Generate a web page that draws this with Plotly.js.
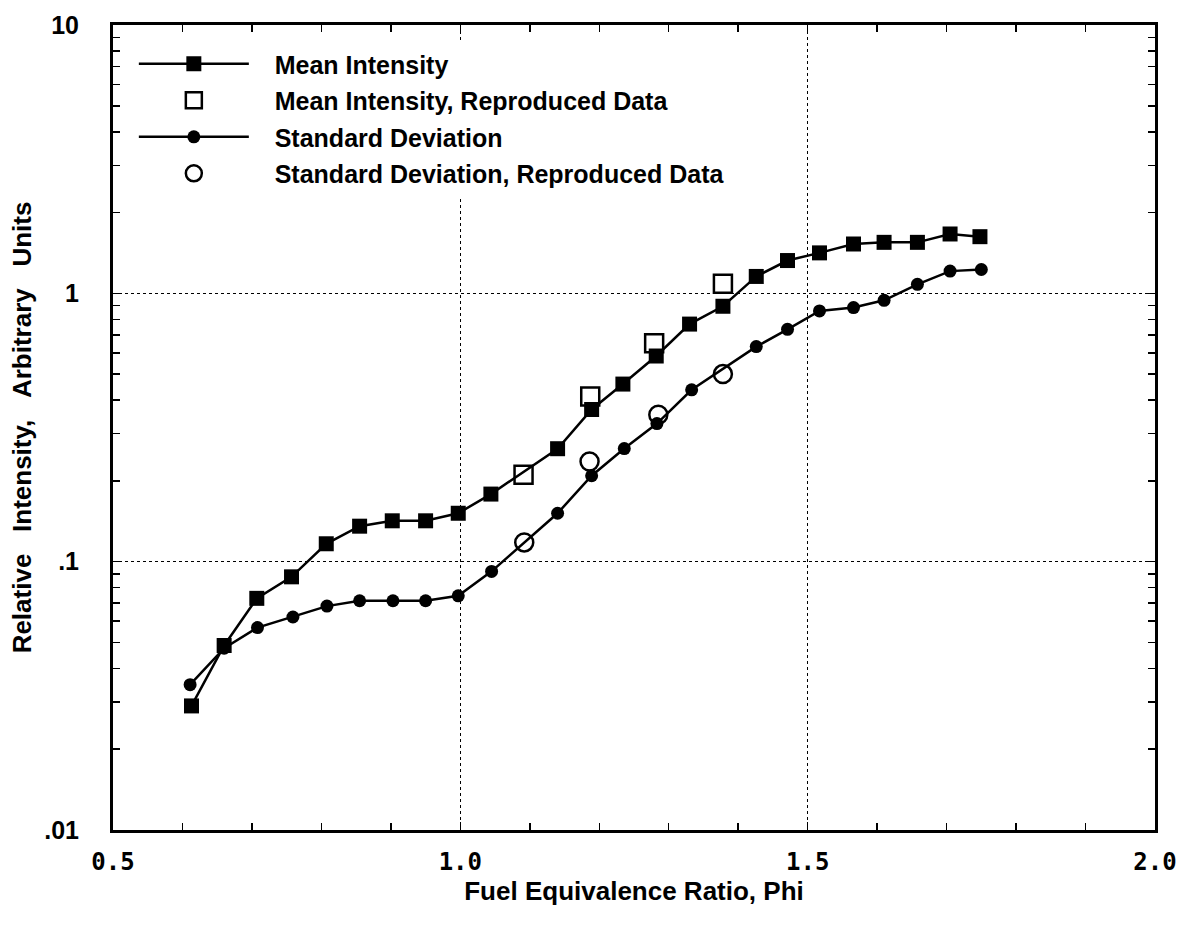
<!DOCTYPE html>
<html>
<head>
<meta charset="utf-8">
<script src="https://cdn.plot.ly/plotly-3.0.1.min.js"></script>
<style>
  html, body { margin: 0; padding: 0; background: #fff; }
  #chart { width: 1182px; height: 929px; }
</style>
</head>
<body>
<div id="chart"></div>
<script>
// Mean Intensity (filled squares)
const meanPhi = [0.613, 0.660, 0.707, 0.757, 0.807, 0.855, 0.902, 0.950, 0.997, 1.044,
                 1.140, 1.189, 1.234, 1.282, 1.330, 1.378, 1.426, 1.471, 1.517, 1.566,
                 1.610, 1.658, 1.705, 1.748];
const meanVal = [0.029, 0.0487, 0.073, 0.0878, 0.1166, 0.1356, 0.142, 0.142, 0.1515, 0.1786,
                 0.2636, 0.369, 0.459, 0.584, 0.768, 0.895, 1.156, 1.325, 1.415, 1.527,
                 1.549, 1.549, 1.664, 1.626];

// Mean Intensity, Reproduced Data (open squares)
const meanRepPhi = [1.091, 1.187, 1.279, 1.378];
const meanRepVal = [0.211, 0.413, 0.651, 1.086];

// Standard Deviation (filled circles)
const sdPhi = [0.611, 0.660, 0.708, 0.759, 0.808, 0.855, 0.903, 0.950, 0.997, 1.045,
               1.140, 1.189, 1.236, 1.283, 1.333, 1.426, 1.471, 1.517, 1.566,
               1.610, 1.658, 1.705, 1.750];
const sdVal = [0.0348, 0.0476, 0.0568, 0.0622, 0.0683, 0.0715, 0.0715, 0.0715, 0.0746, 0.092,
               0.1515, 0.209, 0.264, 0.327, 0.437, 0.633, 0.734, 0.86, 0.885,
               0.942, 1.08, 1.21, 1.227];

// Standard Deviation, Reproduced Data (open circles)
const sdRepPhi = [1.092, 1.186, 1.285, 1.378];
const sdRepVal = [0.118, 0.236, 0.353, 0.50];

const xTickVals = [0.5, 1.0, 1.5, 2.0];
const xTickText = ['0.5', '1.0', '1.5', '2.0'];
const yTickVals = [0.01, 0.1, 1, 10];
const yTickText = ['.01', '.1', '1', '10'];

const fam = 'Liberation Sans, Arial, sans-serif';
const legendFont = {family: fam, size: 25, color: '#000', weight: 'bold'};
const xTitleFont = {family: fam, size: 26, color: '#000', weight: 'bold'};
const yTitleFont = {family: fam, size: 26, color: '#000', weight: 'bold'};
const pad = '\u00a0\u00a0\u00a0';
const sp = '\u00a0\u00a0\u00a0';

const traces = [
  {
    x: meanPhi, y: meanVal, name: pad + '<b>Mean Intensity</b>', type: 'scatter', mode: 'lines+markers',
    legendgroup: 'a',
    line: {color: '#000', width: 2.5},
    marker: {symbol: 'square', size: 15, color: '#000'}
  },
  {
    x: meanRepPhi, y: meanRepVal, name: pad + '<b>Mean Intensity, Reproduced Data</b>', type: 'scatter', mode: 'markers',
    legendgroup: 'b',
    marker: {symbol: 'square-open', size: 18, color: '#000', line: {width: 2.5, color: '#000'}}
  },
  {
    x: sdPhi, y: sdVal, name: pad + '<b>Standard Deviation</b>', type: 'scatter', mode: 'lines+markers',
    legendgroup: 'c',
    line: {color: '#000', width: 2.5},
    marker: {symbol: 'circle', size: 13, color: '#000'}
  },
  {
    x: sdRepPhi, y: sdRepVal, name: pad + '<b>Standard Deviation, Reproduced Data</b>', type: 'scatter', mode: 'markers',
    legendgroup: 'd',
    marker: {symbol: 'circle-open', size: 18, color: '#000', line: {width: 2.5, color: '#000'}}
  }
];

const layout = {
  width: 1182, height: 929,
  paper_bgcolor: '#fff', plot_bgcolor: '#fff',
  margin: {l: 113, r: 27, t: 25, b: 99},
  showlegend: true,
  legend: {
    x: 0.02, y: 0.98, xanchor: 'left', yanchor: 'top',
    bgcolor: '#fff', borderwidth: 0,
    font: legendFont, tracegroupgap: 1, itemwidth: 110
  },
  xaxis: {
    range: [0.5, 2.0], tickvals: xTickVals, ticktext: xTickText,
    ticks: 'inside', ticklen: 8, tickwidth: 1.5, tickcolor: '#000',
    showline: true, linecolor: '#000', linewidth: 3, mirror: 'allticks',
    showgrid: true, gridcolor: '#000', gridwidth: 1.5, griddash: 'dot',
    zeroline: false, ticklabelstandoff: 8,
    minor: {dtick: 0.1, ticks: 'inside', ticklen: 7, tickwidth: 1.5, tickcolor: '#000', showgrid: false},
    tickfont: {family: 'DejaVu Sans Mono, monospace', size: 24, color: '#000', weight: 'bold'},
    title: {text: '<b>Fuel Equivalence Ratio, Phi</b>', font: xTitleFont, standoff: 6}
  },
  yaxis: {
    type: 'log', range: [-2, 1], tickvals: yTickVals, ticktext: yTickText,
    ticks: 'inside', ticklen: 8, tickwidth: 1.5, tickcolor: '#000',
    showline: true, linecolor: '#000', linewidth: 3, mirror: 'allticks',
    showgrid: true, gridcolor: '#000', gridwidth: 1.5, griddash: 'dot',
    zeroline: false, ticklabelstandoff: 26,
    minor: {dtick: 'D1', ticks: 'inside', ticklen: 7, tickwidth: 1.5, tickcolor: '#000', showgrid: false},
    tickfont: {family: fam, size: 25, color: '#000', weight: 'bold'},
    title: {text: '<b>Relative' + sp + 'Intensity,' + sp + 'Arbitrary' + sp + 'Units</b>', font: yTitleFont, standoff: 6}
  }
};

Plotly.newPlot('chart', traces, layout, {displayModeBar: false, staticPlot: true});
</script>
</body>
</html>
